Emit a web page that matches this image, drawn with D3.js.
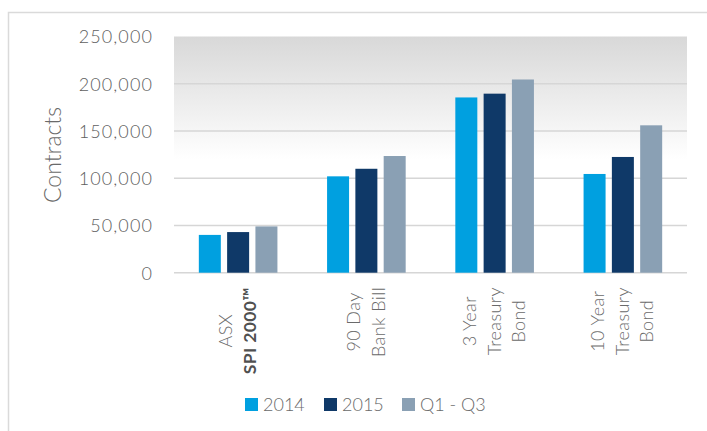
<!DOCTYPE html>
<html>
<head>
<meta charset="utf-8">
<script src="https://d3js.org/d3.v7.min.js"></script>
<style>
  body { margin: 0; background: #fff; }
  svg text { font-family: Lato, "Open Sans", sans-serif; font-weight: 300; fill: #5f5f5f; }
</style>
</head>
<body>
<div class="chart_area"></div>
<script>
// data
var categories = [["ASX", "SPI 2000\u2122"], ["90 Day", "Bank Bill"], ["3 Year", "Treasury", "Bond"], ["10 Year", "Treasury", "Bond"]];
var seriesNames = ["2014", "2015", "Q1 - Q3"];
var values2014 = [40000, 102000, 185500, 104500];
var values2015 = [43000, 110000, 189500, 122500];
var valuesQ = [49000, 123500, 204500, 156000];
var yTicks = [0, 50000, 100000, 150000, 200000, 250000];
var seriesColors = ["#00a0e0", "#0f3968", "#8aa0b4"];

var W = 707, H = 431;
var plot = { left: 174, right: 687, top: 36.5, bottom: 272.7 };

var svg = d3.select(".chart_area")
    .append("svg")
    .attr("width", W)
    .attr("height", H);

// outer frame
svg.append("rect")
    .attr("x", 8.5).attr("y", 12.5)
    .attr("width", W + 20).attr("height", H + 20)
    .attr("fill", "none")
    .attr("stroke", "#dadada")
    .attr("stroke-width", 1.5);

// plot background gradient
var grad = svg.append("defs").append("linearGradient")
    .attr("id", "bg").attr("x1", 0).attr("y1", 0).attr("x2", 0).attr("y2", 1);
grad.append("stop").attr("offset", "0%").attr("stop-color", "#d8d8d8");
grad.append("stop").attr("offset", "52%").attr("stop-color", "#ffffff");
grad.append("stop").attr("offset", "100%").attr("stop-color", "#ffffff");

svg.append("rect")
    .attr("x", plot.left).attr("y", plot.top)
    .attr("width", plot.right - plot.left).attr("height", plot.bottom - plot.top)
    .attr("fill", "url(#bg)");

var x = d3.scaleBand()
    .domain(d3.range(categories.length))
    .range([plot.left, plot.right]);

var y = d3.scaleLinear()
    .domain([0, 250000])
    .range([plot.bottom, plot.top]);

// gridlines
svg.append("g").selectAll("line")
    .data(yTicks.filter(function(d) { return d < 250000; }))
    .enter().append("line")
    .attr("x1", plot.left).attr("x2", plot.right)
    .attr("y1", function(d) { return y(d); })
    .attr("y2", function(d) { return y(d); })
    .attr("stroke", "#d6d6d6")
    .attr("stroke-width", 1.5);

// y axis labels
var yAxis = svg.append("g")
    .attr("transform", "translate(" + (plot.left - 21) + ",0)")
    .call(d3.axisLeft(y).tickValues(yTicks).tickSize(0).tickFormat(d3.format(",")));
yAxis.select(".domain").remove();
yAxis.selectAll("text")
    .attr("x", 0)
    .attr("dy", "0.36em")
    .style("font-family", "Lato, sans-serif")
    .style("font-size", "18px")
    .style("letter-spacing", "1.1px")
    .style("font-weight", 300)
    .style("fill", "#606060");

svg.append("text")
    .attr("transform", "translate(61,155) rotate(-90)")
    .attr("text-anchor", "middle")
    .style("font-size", "23px")
    .style("fill", "#6a6a6a")
    .text("Contracts");

// bars
var allSeries = [values2014, values2015, valuesQ];
var barW = 22, gap = 6.3;
var groupW = barW * 3 + gap * 2;

allSeries.forEach(function(vals, s) {
    svg.append("g").selectAll("rect")
        .data(vals)
        .enter().append("rect")
        .attr("x", function(d, i) { return x(i) + (x.bandwidth() - groupW) / 2 + s * (barW + gap); })
        .attr("y", function(d) { return y(d); })
        .attr("width", barW)
        .attr("height", function(d) { return y(0) - y(d); })
        .attr("fill", seriesColors[s]);
});

// category labels (rotated, one line per text)
var lineGap = 24.5;
categories.forEach(function(lines, i) {
    var cx = x(i) + x.bandwidth() / 2;
    var g = svg.append("g");
    var texts = lines.map(function(l, j) {
        var bold = l.indexOf("SPI") === 0;
        return g.append("text")
            .attr("text-anchor", "middle")
            .style("font-size", bold ? "17.5px" : "18px")
            .style("letter-spacing", bold ? "0.4px" : "0.4px")
            .style("font-weight", bold ? 700 : 300)
            .style("fill", bold ? "#505050" : "#6a6a6a")
            .text(l);
    });
    var maxLen = d3.max(texts, function(t) { return t.node().getComputedTextLength(); });
    var cy = 287 + maxLen / 2;
    texts.forEach(function(t, j) {
        var lx = cx + (j - (lines.length - 1) / 2) * lineGap + 6;
        t.attr("transform", "translate(" + lx + "," + cy + ") rotate(-90)");
    });
});

// legend
var legendX = [245, 324, 402];
var legend = svg.append("g");
seriesNames.forEach(function(name, s) {
    legend.append("rect")
        .attr("x", legendX[s]).attr("y", 398)
        .attr("width", 13).attr("height", 13)
        .attr("fill", seriesColors[s]);
    legend.append("text")
        .attr("x", legendX[s] + 18).attr("y", 411)
        .style("font-size", "18px")
        .style("fill", "#6a6a6a")
        .text(name);
});
</script>
</body>
</html>
